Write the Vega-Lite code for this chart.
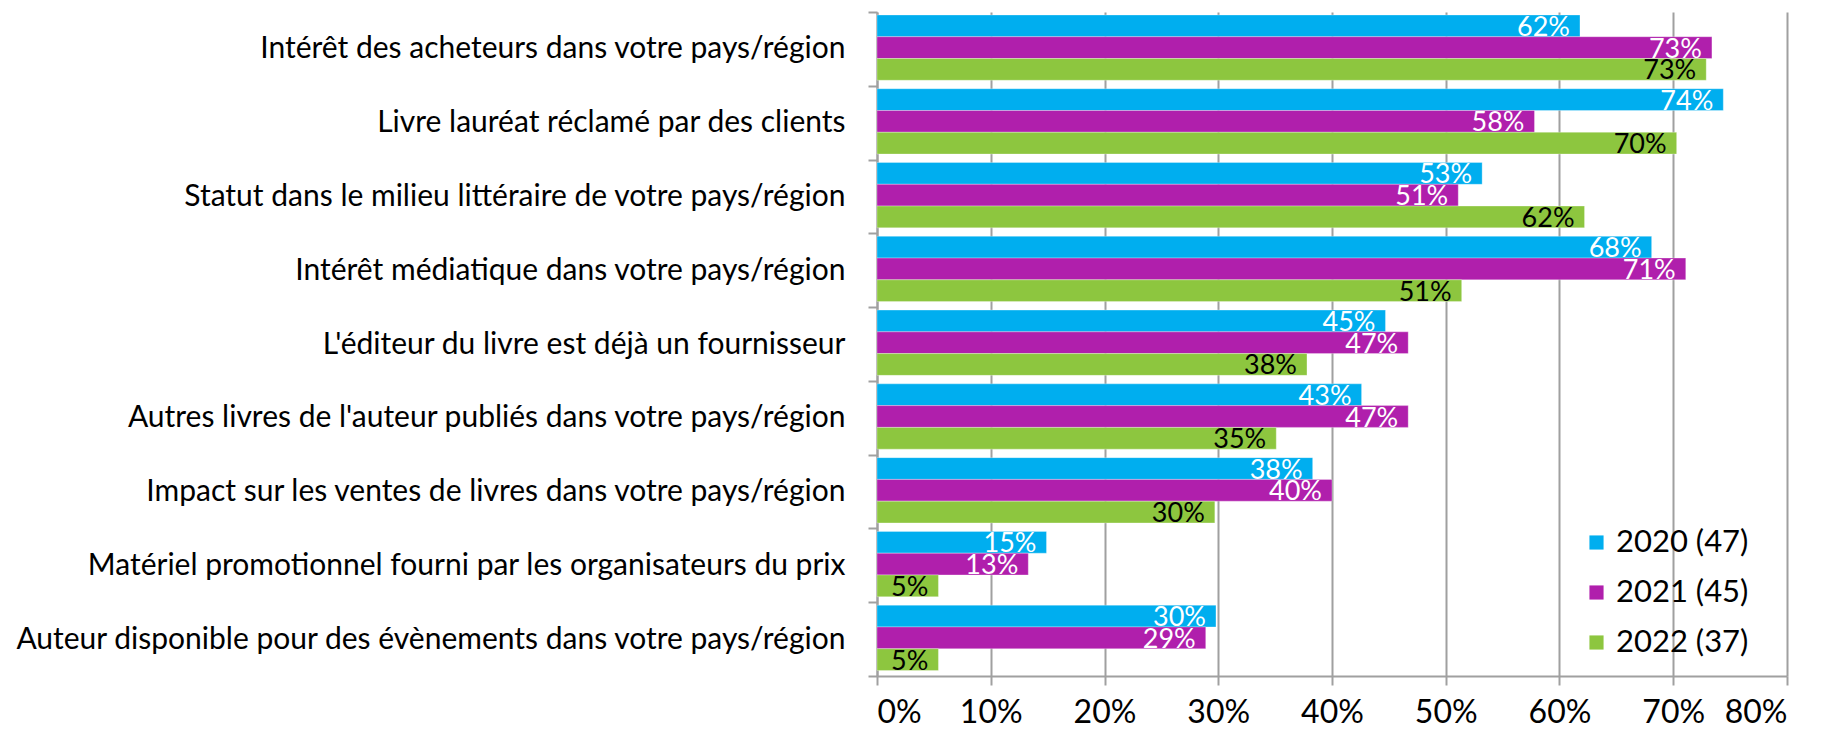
{
  "$schema": "https://vega.github.io/schema/vega-lite/v6.json",
  "autosize": "none",
  "padding": {"left": 877, "top": 12, "right": 35, "bottom": 56},
  "width": 910,
  "height": 664,
  "background": "white",
  "config": {
    "font": "Lato",
    "view": {"stroke": null}
  },
  "data": {
    "values": [
      {"cat": "Intérêt des acheteurs dans votre pays/région", "year": "2020 (47)", "value": 0.618},
      {"cat": "Intérêt des acheteurs dans votre pays/région", "year": "2021 (45)", "value": 0.734},
      {"cat": "Intérêt des acheteurs dans votre pays/région", "year": "2022 (37)", "value": 0.729},
      {"cat": "Livre lauréat réclamé par des clients", "year": "2020 (47)", "value": 0.744},
      {"cat": "Livre lauréat réclamé par des clients", "year": "2021 (45)", "value": 0.578},
      {"cat": "Livre lauréat réclamé par des clients", "year": "2022 (37)", "value": 0.703},
      {"cat": "Statut dans le milieu littéraire de votre pays/région", "year": "2020 (47)", "value": 0.532},
      {"cat": "Statut dans le milieu littéraire de votre pays/région", "year": "2021 (45)", "value": 0.511},
      {"cat": "Statut dans le milieu littéraire de votre pays/région", "year": "2022 (37)", "value": 0.622},
      {"cat": "Intérêt médiatique dans votre pays/région", "year": "2020 (47)", "value": 0.681},
      {"cat": "Intérêt médiatique dans votre pays/région", "year": "2021 (45)", "value": 0.711},
      {"cat": "Intérêt médiatique dans votre pays/région", "year": "2022 (37)", "value": 0.514},
      {"cat": "L'éditeur du livre est déjà un fournisseur", "year": "2020 (47)", "value": 0.447},
      {"cat": "L'éditeur du livre est déjà un fournisseur", "year": "2021 (45)", "value": 0.467},
      {"cat": "L'éditeur du livre est déjà un fournisseur", "year": "2022 (37)", "value": 0.378},
      {"cat": "Autres livres de l'auteur publiés dans votre pays/région", "year": "2020 (47)", "value": 0.426},
      {"cat": "Autres livres de l'auteur publiés dans votre pays/région", "year": "2021 (45)", "value": 0.467},
      {"cat": "Autres livres de l'auteur publiés dans votre pays/région", "year": "2022 (37)", "value": 0.351},
      {"cat": "Impact sur les ventes de livres dans votre pays/région", "year": "2020 (47)", "value": 0.383},
      {"cat": "Impact sur les ventes de livres dans votre pays/région", "year": "2021 (45)", "value": 0.400},
      {"cat": "Impact sur les ventes de livres dans votre pays/région", "year": "2022 (37)", "value": 0.297},
      {"cat": "Matériel promotionnel fourni par les organisateurs du prix", "year": "2020 (47)", "value": 0.149},
      {"cat": "Matériel promotionnel fourni par les organisateurs du prix", "year": "2021 (45)", "value": 0.133},
      {"cat": "Matériel promotionnel fourni par les organisateurs du prix", "year": "2022 (37)", "value": 0.054},
      {"cat": "Auteur disponible pour des évènements dans votre pays/région", "year": "2020 (47)", "value": 0.298},
      {"cat": "Auteur disponible pour des évènements dans votre pays/région", "year": "2021 (45)", "value": 0.289},
      {"cat": "Auteur disponible pour des évènements dans votre pays/région", "year": "2022 (37)", "value": 0.054}
    ]
  },
  "encoding": {
    "y": {
      "field": "cat", "type": "nominal", "sort": null, "title": null,
      "scale": {"paddingInner": 0, "paddingOuter": 0},
      "axis": {
        "tickBand": "extent", "tickSize": 9, "tickColor": "#A0A0A0", "tickWidth": 2,
        "domainColor": "#A0A0A0", "domainWidth": 2,
        "labelFontSize": 30, "labelColor": "#000000", "labelPadding": 23, "labelLimit": 900
      }
    },
    "yOffset": {
      "field": "year", "type": "nominal",
      "scale": {"domain": ["2020 (47)", "2021 (45)", "2022 (37)"], "paddingInner": 0, "paddingOuter": 0.195, "align": 0.35}
    },
    "x": {
      "field": "value", "type": "quantitative", "title": null,
      "scale": {"domain": [0, 0.8], "nice": false},
      "axis": {
        "format": ".0%", "values": [0, 0.1, 0.2, 0.3, 0.4, 0.5, 0.6, 0.7, 0.8],
        "grid": true, "gridColor": "#A0A0A0", "gridWidth": 2,
        "domainColor": "#A0A0A0", "domainWidth": 2,
        "tickColor": "#A0A0A0", "tickWidth": 2, "tickSize": 9,
        "labelFontSize": 32, "labelColor": "#000000", "labelPadding": 12
      }
    }
  },
  "layer": [
    {
      "mark": {"type": "bar", "stroke": "#FFFFFF", "strokeWidth": 0.5, "strokeOpacity": 0.6},
      "encoding": {
        "color": {
          "field": "year", "type": "nominal",
          "scale": {"domain": ["2020 (47)", "2021 (45)", "2022 (37)"], "range": ["#00AEEF", "#B01FAC", "#8DC63F"]},
          "legend": {
            "title": null, "orient": "none", "legendX": 704, "legendY": 515,
            "symbolType": "square", "symbolSize": 200, "symbolStrokeWidth": 0,
            "labelFontSize": 31, "labelColor": "#000000", "rowPadding": 18, "labelOffset": 4
          }
        }
      }
    },
    {
      "mark": {"type": "text", "align": "right", "baseline": "middle", "dx": -10, "dy": 2, "fontSize": 27},
      "encoding": {
        "text": {"field": "value", "type": "quantitative", "format": ".0%"},
        "color": {"condition": {"test": "datum.year === '2022 (37)'", "value": "#000000"}, "value": "#FFFFFF"}
      }
    }
  ]
}
